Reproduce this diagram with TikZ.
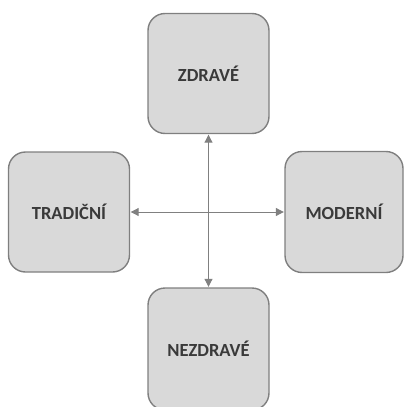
\documentclass[tikz,border=0pt]{standalone}
\usepackage{fontspec}
\setmainfont{Carlito}
\usetikzlibrary{arrows.meta}
\definecolor{boxfill}{HTML}{D9D9D9}
\definecolor{boxline}{HTML}{7F7F7F}
\definecolor{txt}{HTML}{3A3A3A}
\definecolor{arr}{HTML}{808080}
\tikzset{
  quad/.style={draw=boxline, fill=boxfill, line width=1.4pt, rounded corners=17pt,
    minimum width=121pt, minimum height=120pt, inner sep=0pt,
    font=\fontsize{18.5}{22}\selectfont\bfseries, text=txt},
  conn/.style={draw=arr, line width=1pt, {Triangle[length=8pt,width=8pt]}-{Triangle[length=8pt,width=8pt]}, shorten <=0.5pt, shorten >=0.5pt}
}
\begin{document}
\begin{tikzpicture}[x=1pt,y=-1pt]
\useasboundingbox (0,0) rectangle (406,407);
\clip (0,0) rectangle (406,407);
\node[quad] (top) at (208.5,73.5) {ZDRAVÉ};
\node[quad] (left) at (69,212) {TRADIČNÍ};
\node[quad, minimum width=118pt, minimum height=121pt] (right) at (344,212) {MODERNÍ};
\node[quad, minimum height=122pt] (bottom) at (208.5,349) {NEZDRAVÉ};
\draw[conn] (left.east) -- (right.west);
\draw[conn] (top.south) -- (bottom.north);
\end{tikzpicture}
\end{document}
